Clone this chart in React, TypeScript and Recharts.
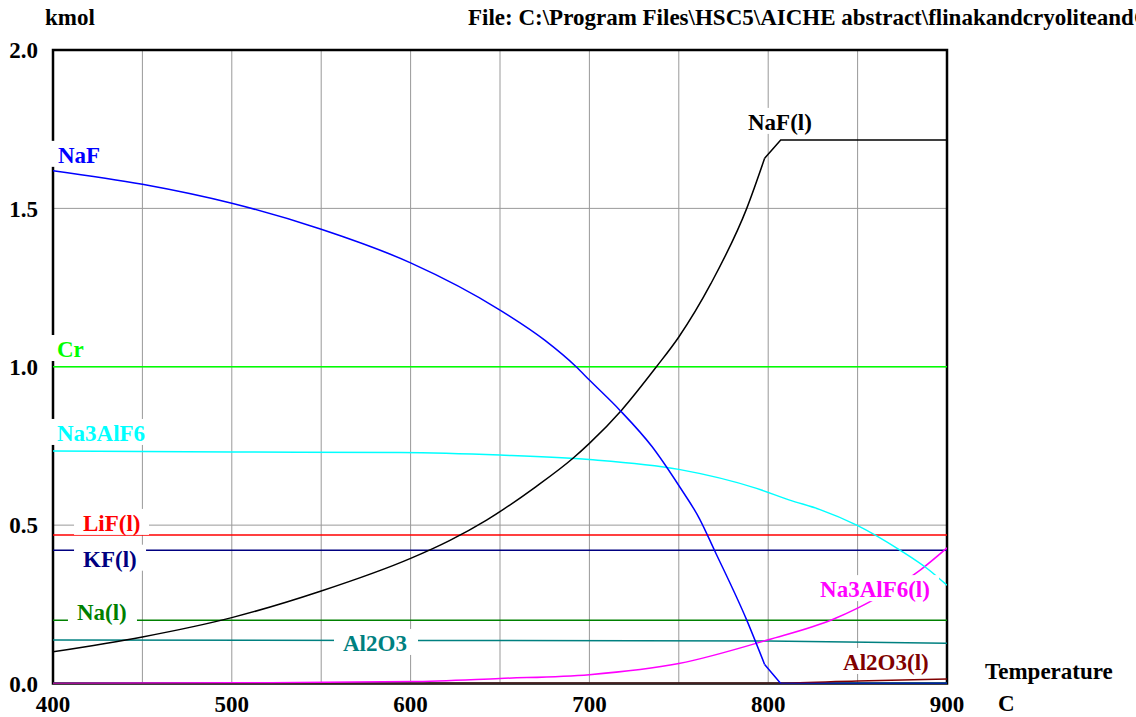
import { CartesianGrid, Line, LineChart, ReferenceArea, ReferenceDot, XAxis, YAxis } from "recharts";

const FONT = '"Liberation Serif", "Times New Roman", serif';

// temperature (C) / amount (kmol) pairs
const naF = [
  [400, 1.619], [450, 1.576], [500, 1.516], [550, 1.434], [600, 1.328], [650, 1.179],
  [675, 1.084], [692.6, 1.0], [700, 0.958], [717, 0.863], [735, 0.748], [750, 0.625],
  [761.6, 0.52], [770, 0.42], [788, 0.2], [798, 0.06],
];
const naFTail = [[798, 0.06], [807, 0], [900, 0]];
const naFl = [
  [400, 0.1], [450, 0.147], [500, 0.208], [550, 0.292], [600, 0.395], [622, 0.452],
  [642.5, 0.516], [670, 0.621], [690.8, 0.711], [700, 0.758], [718, 0.863], [737.5, 1.0],
  [750, 1.094], [768, 1.263], [788, 1.5], [798, 1.658],
];
const naFlTail = [[798, 1.658], [807, 1.716], [900, 1.716]];
const cr = [[400, 1.0], [900, 1.0]];
const na3AlF6 = [
  [400, 0.734], [500, 0.731], [594, 0.729], [650, 0.721], [700, 0.707], [750, 0.676],
  [793.5, 0.616], [812, 0.579], [829, 0.549], [849.5, 0.5], [873.7, 0.421], [889.6, 0.36],
  [900, 0.31],
];
const na3AlF6l = [
  [400, 0.0], [500, 0.002], [600, 0.006], [650, 0.016], [700, 0.028], [750, 0.063],
  [800, 0.138], [836, 0.202], [850, 0.238], [858.8, 0.264], [885, 0.358], [900, 0.428],
];
const liFl = [[400, 0.469], [900, 0.469]];
const kFl = [[400, 0.421], [900, 0.421]];
const nal = [[400, 0.2], [900, 0.2]];
const al2o3 = [[400, 0.137], [600, 0.136], [800, 0.134], [900, 0.127]];
const al2o3l = [[400, 0.0], [800, 0.001], [850, 0.008], [900, 0.014]];
const others = [[400, 0.0], [900, 0.0]];

const xTicks = [400, 450, 500, 550, 600, 650, 700, 750, 800, 850, 900];
const yTicks = [0, 0.5, 1.0, 1.5, 2.0];

const toRows = (pts: number[][]) => pts.map(([T, v]) => ({ T, v }));

const series = [
  { key: "others", pts: others, color: "#008080", width: 2, curve: "linear" },
  { key: "Al2O3(l)", pts: al2o3l, color: "#800000", width: 1.5, curve: "monotone" },
  { key: "Al2O3", pts: al2o3, color: "#008080", width: 1.5, curve: "monotone" },
  { key: "Na(l)", pts: nal, color: "#008000", width: 1.5, curve: "linear" },
  { key: "KF(l)", pts: kFl, color: "#000080", width: 1.5, curve: "linear" },
  { key: "LiF(l)", pts: liFl, color: "#ff0000", width: 1.5, curve: "linear" },
  { key: "Na3AlF6(l)", pts: na3AlF6l, color: "#ff00ff", width: 1.5, curve: "monotone" },
  { key: "Na3AlF6", pts: na3AlF6, color: "#00ffff", width: 1.5, curve: "monotone" },
  { key: "Cr", pts: cr, color: "#00ff00", width: 1.5, curve: "linear" },
  { key: "NaF(l)", pts: naFl, color: "#000000", width: 1.5, curve: "monotone" },
  { key: "NaF(l) tail", pts: naFlTail, color: "#000000", width: 1.5, curve: "linear" },
  { key: "NaF", pts: naF, color: "#0000ff", width: 1.5, curve: "monotone" },
  { key: "NaF tail", pts: naFTail, color: "#0000ff", width: 1.5, curve: "linear" },
];

// label anchor (left edge, vertical centre) in chart units
const labels = [
  { text: "NaF", T: 402.8, v: 1.669, color: "#0000ff", w: 42 },
  { text: "Cr", T: 402.2, v: 1.056, color: "#00ff00", w: 27 },
  { text: "Na3AlF6", T: 402.2, v: 0.791, color: "#00ffff", w: 90 },
  { text: "LiF(l)", T: 416.8, v: 0.507, color: "#ff0000", w: 57 },
  { text: "KF(l)", T: 416.8, v: 0.394, color: "#000080", w: 54 },
  { text: "Na(l)", T: 413.4, v: 0.226, color: "#008000", w: 51 },
  { text: "Al2O3", T: 562.2, v: 0.128, color: "#008080", w: 66 },
  { text: "NaF(l)", T: 788.7, v: 1.773, color: "#000000", w: 64 },
  { text: "Na3AlF6(l)", T: 829.0, v: 0.298, color: "#ff00ff", w: 110 },
  { text: "Al2O3(l)", T: 841.9, v: 0.068, color: "#800000", w: 86 },
];

const tickStyle = { fill: "#000", fontSize: 23, fontWeight: "bold", fontFamily: FONT };

export default function App() {
  return (
    <div style={{ position: "absolute", left: 0, top: 0, width: 1136, height: 717, background: "#fff", overflow: "hidden" }}>
      <LineChart width={1136} height={717} margin={{ top: 50, right: 189, bottom: 0, left: 0 }}>
        <CartesianGrid stroke="#999" strokeWidth={1} />
        <XAxis
          dataKey="T"
          type="number"
          domain={[400, 900]}
          ticks={xTicks}
          tickFormatter={(t: number) => (t % 100 === 0 ? String(t) : "")}
          tick={tickStyle}
          tickLine={false}
          axisLine={false}
          tickSize={0}
          tickMargin={12}
          height={33.5}
          allowDataOverflow
        />
        <YAxis
          type="number"
          domain={[0, 2]}
          ticks={yTicks}
          tickFormatter={(t: number) => t.toFixed(1)}
          tick={tickStyle}
          tickLine={false}
          axisLine={false}
          tickSize={0}
          tickMargin={15}
          width={53}
          allowDataOverflow
        />
        <ReferenceArea x1={400} x2={900} y1={0} y2={2} fill="none" stroke="#000" strokeWidth={2.5} fillOpacity={0} />
        {series.map((s) => (
          <Line
            key={s.key}
            data={toRows(s.pts)}
            dataKey="v"
            name={s.key}
            type={s.curve as any}
            stroke={s.color}
            strokeWidth={s.width}
            dot={false}
            activeDot={false}
            isAnimationActive={false}
          />
        ))}
        {labels.map((l) => (
          <ReferenceDot
            key={l.text}
            x={l.T}
            y={l.v}
            r={0}
            ifOverflow="visible"
            shape={(p: any) => (
              <g>
                <rect x={p.cx - 9} y={p.cy - 14} width={l.w + 18} height={26} fill="#fff" />
                <text
                  x={p.cx}
                  y={p.cy}
                  dy="0.35em"
                  fill={l.color}
                  fontSize={23}
                  fontWeight="bold"
                  fontFamily={FONT}
                >
                  {l.text}
                </text>
              </g>
            )}
          />
        ))}
      </LineChart>
      <svg
        width={1136}
        height={717}
        style={{ position: "absolute", left: 0, top: 0, pointerEvents: "none" }}
        fontFamily={FONT}
        fontWeight="bold"
        fontSize={23}
      >
        <text x={45} y={25}>kmol</text>
        <text x={468} y={25}>File: C:\Program Files\HSC5\AICHE abstract\flinakandcryoliteandOs</text>
        <text x={985} y={679}>Temperature</text>
        <text x={998} y={711}>C</text>
      </svg>
    </div>
  );
}
